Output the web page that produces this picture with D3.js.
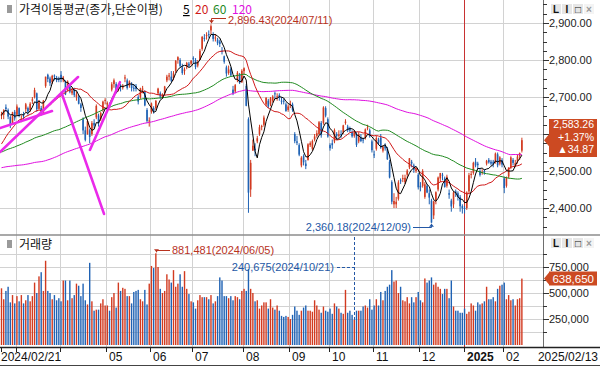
<!DOCTYPE html>
<html>
<head>
<meta charset="utf-8">
<title>가격이동평균</title>
<script src="https://d3js.org/d3.v7.min.js"></script>
<style>
  body { margin: 0; background: #fff; }
  svg { display: block; font-family: "Liberation Sans", Arial, sans-serif; font-size: 11px; }
  .kr { font-family: "Noto Sans CJK KR", sans-serif; font-size: 12px; }
</style>
</head>
<body>
<div id="chart"></div>
<script>
// trading days, grouped by month
var tradingDays = [
  ["2024/02", [21,22,23,26,27,28,29]],
  ["2024/03", [4,5,6,7,8,11,12,13,14,15,18,19,20,21,22,25,26,27,28,29]],
  ["2024/04", [1,2,3,4,5,8,9,11,12,15,16,17,18,19,22,23,24,25,26,29,30]],
  ["2024/05", [2,3,7,8,9,10,13,14,16,17,20,21,22,23,24,27,28,29,30,31]],
  ["2024/06", [3,4,5,7,10,11,12,13,14,17,18,19,20,21,24,25,26,27,28]],
  ["2024/07", [1,2,3,4,5,8,9,10,11,12,15,16,17,18,19,22,23,24,25,26,29,30,31]],
  ["2024/08", [1,2,5,6,7,8,9,12,13,14,16,19,20,21,22,23,26,27,28,29,30]],
  ["2024/09", [2,3,4,5,6,9,10,11,12,13,19,20,23,24,25,26,27,30]],
  ["2024/10", [2,4,7,8,10,11,14,15,16,17,18,21,22,23,24,25,28,29,30,31]],
  ["2024/11", [1,4,5,6,7,8,11,12,13,14,15,18,19,20,21,22,25,26,27,28,29]],
  ["2024/12", [2,3,4,5,6,9,10,11,12,13,16,17,18,19,20,23,24,26,27,30]],
  ["2025/01", [2,3,6,7,8,9,10,13,14,15,16,17,20,21,22,23,24,31]],
  ["2025/02", [3,4,5,6,7,10,11,12,13]]
];

// closes before the first visible day (needed for the 60/120 averages)
var priorClose = [
  2537,2519,2543,2552,2561,2556,
  2563,2584,2582,2563,2548,2547,2535,2536,2534,2572,2601,2574,2559,2559,2508,2508,2495,2462,2465,
  2405,2403,2408,2402,2450,2479,2456,2436,2460,2462,2415,2375,2357,2383,2363,2299,2302,2310,2277,
  2301,2343,2368,2502,2443,2421,2427,2409,2403,2433,2486,2488,2469,2491,2510,2511,2514,2496,2495,2521,2519,2535,
  2505,2514,2495,2492,2492,2517,2525,2535,2517,2544,2563,2566,2568,2614,2600,2599,2602,2613,2655,
  2669,2607,2587,2578,2567,2561,2541,2540,2525,2525,2497,2435,2440,2472,2464,2478,2469,2470,2478,2500,2498,2497,
  2542,2615,2591,2576,2609,2620,2649,2620,2613,2648,2680,2657
];

var open = [
  2650,2652,2672,2665,2646,2630,2660,
  2652,2670,2640,2650,2667,2670,2665,2690,2700,2710,2668,2670,2660,2730,2760,2750,2740,2758,2752,2750,
  2760,2745,2740,2720,2730,2710,2720,2700,2700,2680,2640,2610,2600,2610,2600,2630,2645,2650,2640,2665,2690,
  2680,2680,2720,2735,2735,2720,2730,2725,2750,2745,2730,2735,2725,2730,2700,2700,2720,2715,2665,2635,
  2660,2670,2670,2710,2710,2700,2710,2745,2755,2755,2750,2770,2800,2800,2780,2770,2780,2790,2790,
  2805,2800,2785,2800,2830,2860,2865,2870,2880,2870,2860,2855,2850,2825,2810,2780,2765,2775,2720,2715,2745,2760,2740,
  2770,2730,2640,2450,2555,2560,2580,2600,2620,2625,2680,2690,2680,2690,2710,2700,2705,2690,2690,2680,2665,
  2680,2680,2600,2580,2570,2515,2540,2520,2530,2570,2560,2585,2595,2600,2630,2630,2670,2640,
  2570,2575,2580,2600,2595,2600,2605,2630,2620,2615,2605,2595,2600,2580,2590,2585,2590,2615,2610,2580,
  2545,2560,2585,2590,2555,2570,2560,2525,2470,2410,2410,2425,2475,2480,2470,2490,2510,2525,2515,2500,2490,
  2460,2460,2430,2460,2440,2420,2380,2420,2450,2480,2490,2480,2460,2440,2420,2410,2445,2440,2430,2405,
  2400,2400,2445,2490,2495,2525,2520,2500,2495,2500,2520,2530,2525,2525,2525,2545,2520,2530,
  2480,2460,2485,2510,2530,2515,2525,2540,2555
];

var high = [
  2660,2667,2680,2669,2650,2660,2665,
  2680,2672,2651,2660,2684,2674,2686,2700,2725,2712,2692,2676,2692,2755,2763,2755,2760,2761,2757,2755,
  2770,2757,2745,2745,2735,2725,2725,2715,2705,2684,2645,2620,2640,2615,2635,2640,2680,2655,2660,2690,2697,
  2688,2685,2740,2750,2740,2730,2735,2735,2760,2750,2745,2740,2735,2735,2705,2725,2730,2718,2670,2645,
  2685,2675,2692,2725,2715,2710,2730,2760,2765,2770,2770,2800,2810,2805,2790,2780,2795,2795,2800,
  2810,2805,2800,2830,2865,2870,2875,2880,2896.43,2875,2870,2860,2855,2835,2812,2785,2785,2780,2730,2735,2770,2765,2775,
  2780,2735,2645,2530,2585,2575,2595,2625,2625,2650,2700,2695,2700,2705,2715,2710,2710,2700,2695,2685,2680,
  2690,2685,2605,2595,2575,2540,2545,2530,2575,2580,2585,2600,2610,2635,2635,2675,2675,2645,
  2575,2585,2615,2605,2610,2610,2625,2640,2625,2620,2610,2610,2605,2605,2600,2590,2615,2625,2615,2585,
  2555,2595,2590,2600,2570,2575,2565,2530,2475,2440,2430,2475,2480,2490,2490,2505,2535,2530,2520,2510,2495,
  2470,2505,2470,2465,2450,2425,2420,2445,2485,2495,2495,2485,2490,2450,2425,2445,2450,2445,2435,2410,
  2405,2445,2495,2500,2525,2535,2525,2505,2505,2505,2530,2535,2530,2530,2550,2550,2540,2535,
  2485,2485,2510,2540,2535,2530,2545,2550,2590
];

var low = [
  2640,2640,2660,2640,2616,2628,2636,
  2650,2645,2632,2640,2660,2652,2660,2681,2696,2660,2666,2650,2655,2725,2740,2730,2735,2745,2740,2740,
  2740,2740,2705,2715,2710,2705,2700,2690,2680,2660,2600,2580,2598,2575,2595,2615,2640,2620,2635,2660,2680,
  2670,2670,2715,2725,2710,2715,2715,2720,2740,2720,2725,2715,2715,2715,2680,2695,2710,2675,2630,2620,
  2655,2655,2665,2705,2695,2695,2705,2740,2745,2740,2745,2765,2790,2780,2760,2760,2775,2780,2785,
  2790,2775,2780,2800,2825,2850,2855,2860,2870,2850,2850,2840,2835,2815,2790,2755,2760,2755,2705,2710,2740,2735,2738,
  2760,2675,2387,2430,2555,2540,2575,2595,2610,2620,2675,2670,2675,2685,2695,2690,2690,2680,2680,2660,2660,
  2670,2660,2575,2570,2540,2510,2515,2505,2528,2565,2555,2580,2590,2598,2590,2625,2645,2590,
  2555,2560,2575,2585,2590,2590,2600,2625,2605,2605,2590,2590,2565,2575,2578,2575,2585,2610,2590,2550,
  2535,2555,2570,2560,2550,2555,2530,2480,2410,2400,2400,2420,2465,2470,2465,2480,2505,2510,2495,2495,2450,
  2445,2455,2425,2440,2410,2360.18,2370,2410,2445,2470,2475,2455,2455,2425,2390,2400,2430,2420,2390,2385,
  2385,2395,2440,2480,2490,2510,2505,2485,2490,2490,2515,2520,2515,2510,2520,2510,2515,2510,
  2440,2455,2480,2505,2515,2510,2520,2530,2550
];

var close = [
  2653.31,2664.27,2667.70,2647.08,2625.05,2658.63,2642.36,
  2674.27,2649.40,2641.49,2647.62,2680.35,2660.35,2681.81,2693.57,2718.76,2666.84,2685.84,2656.17,2690.14,2754.86,2748.56,2737.57,2757.09,2755.11,2745.82,2746.63,
  2747.86,2753.16,2706.97,2742.00,2714.21,2717.65,2705.16,2706.96,2681.82,2670.43,2609.63,2584.18,2634.70,2591.86,2629.44,2623.02,2675.75,2628.62,2656.33,2687.44,2692.06,
  2683.65,2676.63,2734.36,2745.05,2712.14,2727.63,2727.21,2730.34,2753.00,2724.62,2742.14,2724.18,2723.46,2721.81,2687.60,2722.99,2722.85,2677.30,2635.44,2636.52,
  2682.52,2662.10,2689.50,2722.67,2701.17,2705.72,2728.17,2754.89,2758.42,2744.10,2763.92,2797.33,2807.63,2784.06,2764.73,2774.39,2792.05,2784.26,2797.82,
  2804.31,2780.86,2794.01,2824.94,2862.23,2857.76,2867.38,2867.99,2891.35,2857.00,2860.92,2845.38,2843.35,2824.35,2795.46,2763.51,2774.29,2758.71,2710.65,2731.90,2765.52,2738.19,2770.69,
  2777.68,2676.19,2441.55,2522.15,2568.41,2556.73,2588.43,2618.30,2621.50,2644.50,2697.23,2674.36,2696.63,2701.13,2707.67,2701.69,2698.01,2689.25,2689.83,2662.28,2674.31,
  2681.00,2664.63,2580.80,2576.26,2544.28,2535.93,2523.43,2513.37,2572.09,2575.41,2580.80,2593.37,2602.01,2631.68,2596.32,2671.57,2649.78,2593.27,
  2561.69,2569.71,2610.38,2594.36,2599.16,2596.91,2623.29,2633.45,2610.36,2609.30,2593.71,2604.02,2570.70,2599.62,2581.03,2583.27,2612.43,2617.80,2593.79,2556.15,
  2542.36,2588.97,2576.88,2563.51,2564.63,2561.15,2531.66,2482.57,2417.08,2418.86,2416.86,2469.07,2471.95,2480.63,2481.69,2501.24,2534.34,2520.36,2503.06,2504.67,2455.91,
  2455.89,2500.10,2464.00,2441.85,2428.16,2360.58,2417.84,2442.51,2482.12,2494.46,2488.97,2456.81,2484.43,2435.93,2404.15,2442.01,2440.52,2429.67,2404.77,2399.49,
  2398.94,2441.92,2488.64,2492.10,2521.90,2515.00,2515.78,2489.56,2497.42,2496.94,2527.49,2523.55,2520.05,2518.03,2547.06,2515.43,2536.80,2517.37,
  2453.95,2481.69,2509.29,2536.75,2521.92,2521.27,2539.05,2548.39,2583.26
];

// volume, thousand shares
var volume = [
  545000,440000,520000,560000,410000,480000,400000,
  470000,420000,480000,400000,430000,480000,420000,470000,600000,500000,660000,700000,520000,810000,520000,500000,440000,480000,430000,450000,
  420000,620000,620000,430000,620000,450000,480000,590000,570000,470000,590000,430000,390000,790000,420000,330000,340000,340000,400000,440000,380000,
  380000,330000,460000,500000,360000,600000,520000,550000,540000,470000,470000,400000,510000,520000,530000,440000,420000,530000,390000,590000,
  760000,740000,881481,750000,540000,500000,520000,680000,630000,600000,720000,560000,590000,680000,560000,710000,540000,490000,420000,
  410000,350000,430000,480000,460000,460000,460000,440000,480000,400000,420000,470000,650000,620000,470000,470000,450000,470000,430000,470000,460000,440000,520000,
  540000,520000,730000,540000,500000,420000,430000,350000,380000,410000,410000,350000,440000,360000,340000,380000,330000,280000,270000,280000,270000,
  250000,290000,370000,330000,290000,330000,360000,380000,330000,330000,320000,430000,380000,340000,310000,370000,330000,320000,
  350000,300000,400000,370000,350000,310000,300000,530000,310000,330000,290000,240675,330000,330000,330000,370000,380000,360000,440000,340000,
  380000,440000,380000,510000,430000,520000,560000,580000,720000,610000,620000,500000,560000,430000,420000,460000,400000,460000,410000,460000,510000,
  430000,410000,640000,600000,620000,650000,580000,600000,560000,540000,490000,540000,540000,450000,620000,370000,330000,330000,310000,310000,
  350000,300000,320000,400000,380000,330000,410000,390000,400000,420000,560000,440000,440000,460000,420000,540000,570000,580000,
  600000,440000,480000,430000,440000,380000,440000,450000,638650
];

var maPeriods = [5, 20, 60, 120];
var priceTicks = [2400, 2500, 2600, 2700, 2800, 2900];
var volumeTicks = [250000, 500000, 750000];

// drawn trend lines as [bar index, price] pairs
var trendLines = [
  [[-0.7, 2616], [22.9, 2662]],
  [[-0.7, 2551], [34.7, 2754]],
  [[27.4, 2708], [46.5, 2384]],
  [[40.1, 2557], [53.7, 2740]]
];

var maColors = ["#000000", "#d01818", "#1f8a1f", "#e010e0"];
var upColor = "#d23a20", downColor = "#1f62b4";

var dates = [];
var monthStarts = [];
tradingDays.forEach(function(m) {
  monthStarts.push({ i: dates.length, ym: m[0] });
  m[1].forEach(function(d) { dates.push(m[0] + "/" + (d < 10 ? "0" + d : d)); });
});

var n = close.length;
var bars = d3.range(n).map(function(i) {
  return { i: i, date: dates[i], o: open[i], h: high[i], l: low[i], c: close[i], v: volume[i] };
});

var fmt2 = d3.format(",.2f"), fmt0 = d3.format(",");

var svg = d3.select("#chart").append("svg")
  .attr("width", 600)
  .attr("height", 366);

var plotRight = 543;
var x = d3.scaleLinear().domain([0, 236]).range([1.5, 1.5 + 236 * 2.205]);
var y = d3.scaleLinear().domain([2400, 2900]).range([208, 23]);
var yv = d3.scaleLinear().domain([0, 750000]).range([345, 267]);

var defs = svg.append("defs");
defs.append("clipPath").attr("id", "clipPrice").append("rect")
  .attr("x", 0).attr("y", 0).attr("width", plotRight).attr("height", 234);
defs.append("clipPath").attr("id", "clipVol").append("rect")
  .attr("x", 0).attr("y", 236).attr("width", plotRight).attr("height", 110);

// grid
var grid = svg.append("g").attr("stroke", "#d2d2d2").attr("stroke-width", 1);
grid.selectAll(".hp").data(priceTicks).enter().append("line")
  .attr("x1", 0).attr("x2", plotRight)
  .attr("y1", function(d) { return Math.round(y(d)) + 0.5; })
  .attr("y2", function(d) { return Math.round(y(d)) + 0.5; });
grid.selectAll(".hv").data(d3.range(125000, 900000, 125000)).enter().append("line")
  .attr("x1", 0).attr("x2", plotRight)
  .attr("y1", function(d) { return Math.round(yv(d)) + 0.5; })
  .attr("y2", function(d) { return Math.round(yv(d)) + 0.5; });
grid.selectAll(".vm").data(monthStarts.slice(1)).enter().append("line")
  .attr("x1", function(d) { return Math.round(x(d.i)) - 0.5; })
  .attr("x2", function(d) { return Math.round(x(d.i)) - 0.5; })
  .attr("y1", 0).attr("y2", 347)
  .attr("stroke", function(d) { return d.ym.slice(5) === "01" ? "#c83232" : null; });

// candles
var pg = svg.append("g").attr("clip-path", "url(#clipPrice)");
pg.selectAll(".wick").data(bars).enter().append("line")
  .attr("x1", function(d) { return x(d.i); })
  .attr("x2", function(d) { return x(d.i); })
  .attr("y1", function(d) { return y(d.h); })
  .attr("y2", function(d) { return y(d.l); })
  .attr("stroke", function(d) { return d.c >= d.o ? upColor : downColor; })
  .attr("stroke-width", 1);
pg.selectAll(".body").data(bars).enter().append("rect")
  .attr("x", function(d) { return x(d.i) - 0.8; })
  .attr("width", 1.6)
  .attr("y", function(d) { return y(Math.max(d.o, d.c)); })
  .attr("height", function(d) { return Math.max(1, Math.abs(y(d.o) - y(d.c))); })
  .attr("fill", function(d) { return d.c >= d.o ? upColor : downColor; });

// moving averages
var allClose = priorClose.concat(close);
function movingAverage(p) {
  return d3.range(n).map(function(i) {
    var k = priorClose.length + i;
    return { i: i, v: d3.mean(allClose.slice(Math.max(0, k - p + 1), k + 1)) };
  });
}
var line = d3.line().x(function(d) { return x(d.i); }).y(function(d) { return y(d.v); });
maPeriods.slice().reverse().forEach(function(p) {
  var idx = maPeriods.indexOf(p);
  pg.append("path")
    .datum(movingAverage(p))
    .attr("d", line)
    .attr("fill", "none")
    .attr("stroke", maColors[idx])
    .attr("stroke-width", 1);
});

// trend lines
pg.selectAll(".trend").data(trendLines).enter().append("line")
  .attr("x1", function(d) { return x(d[0][0]); })
  .attr("y1", function(d) { return y(d[0][1]); })
  .attr("x2", function(d) { return x(d[1][0]); })
  .attr("y2", function(d) { return y(d[1][1]); })
  .attr("stroke", "#ea2aea")
  .attr("stroke-width", 2.6)
  .attr("stroke-linecap", "round");

// volume
var vg = svg.append("g").attr("clip-path", "url(#clipVol)");
vg.selectAll("rect").data(bars).enter().append("rect")
  .attr("x", function(d) { return x(d.i) - 0.7; })
  .attr("width", 1.4)
  .attr("y", function(d) { return yv(d.v); })
  .attr("height", function(d) { return yv(0) - yv(d.v); })
  .attr("fill", function(d) { return d.c >= d.o ? upColor : downColor; });

// frame lines
svg.append("line").attr("x1", 0).attr("x2", 600).attr("y1", 235).attr("y2", 235)
  .attr("stroke", "#8c8c8c").attr("stroke-width", 1.5);
svg.append("line").attr("x1", plotRight + 0.5).attr("x2", plotRight + 0.5).attr("y1", 0).attr("y2", 347)
  .attr("stroke", "#6e6e6e");
svg.append("line").attr("x1", 0).attr("x2", 600).attr("y1", 347.5).attr("y2", 347.5)
  .attr("stroke", "#222").attr("stroke-width", 1.5);
svg.append("line").attr("x1", 0).attr("x2", 600).attr("y1", 365.5).attr("y2", 365.5)
  .attr("stroke", "#444");

// right price axis
var ra = svg.append("g");
ra.selectAll(".mt").data(d3.range(2350, 2975, 25)).enter().append("line")
  .attr("x1", plotRight).attr("x2", function(d) { return d % 100 === 0 ? plotRight + 6 : plotRight + 4; })
  .attr("y1", function(d) { return Math.round(y(d)) + 0.5; })
  .attr("y2", function(d) { return Math.round(y(d)) + 0.5; })
  .attr("stroke", "#333");
ra.selectAll(".pl").data(priceTicks).enter().append("text")
  .attr("x", plotRight + 6).attr("y", function(d) { return y(d) + 4; })
  .attr("fill", "#222")
  .text(function(d) { return fmt2(d); });

// right volume axis
ra.selectAll(".vt").data(d3.range(125000, 1000000, 125000)).enter().append("line")
  .attr("x1", plotRight).attr("x2", function(d) { return d % 250000 === 0 ? plotRight + 6 : plotRight + 4; })
  .attr("y1", function(d) { return Math.round(yv(d)) + 0.5; })
  .attr("y2", function(d) { return Math.round(yv(d)) + 0.5; })
  .attr("stroke", "#333");
ra.selectAll(".vl").data(volumeTicks).enter().append("text")
  .attr("x", plotRight + 6).attr("y", function(d) { return yv(d) + 4; })
  .attr("fill", "#222")
  .text(function(d) { return fmt0(d); });

// window buttons
[4, 238].forEach(function(top) {
  var b = svg.append("g").attr("transform", "translate(551," + top + ")");
  ["L", "I", "□", "×"].forEach(function(s, k) {
    b.append("rect").attr("x", k * 11).attr("y", 0).attr("width", 10).attr("height", 10)
      .attr("fill", k === 3 ? "#f4f4f4" : "#e6e6e6");
    b.append("text").attr("x", k * 11 + 5).attr("y", 9).attr("text-anchor", "middle")
      .attr("font-size", 10).attr("font-weight", "bold")
      .attr("fill", k === 3 ? "#9a9a9a" : "#111").text(s);
  });
});

// current price box
var last = bars[n - 1], prev = bars[n - 2];
var diff = last.c - prev.c;
var yc = y(last.c);
svg.append("path")
  .attr("d", "M" + (plotRight + 1) + "," + yc + "L549," + (yc - 6) + "L549,119L597,119L597,157L549,157L549," + (yc + 6) + "Z")
  .attr("fill", "#cc4a22");
[fmt2(last.c), "+" + d3.format(".2f")(diff / prev.c * 100) + "%", "▲" + fmt2(diff)].forEach(function(s, k) {
  svg.append("text").attr("x", 594).attr("y", 128 + k * 12.5).attr("text-anchor", "end")
    .attr("fill", "#fff").attr("font-size", 10.5).text(s);
});
var yvc = yv(last.v);
svg.append("path")
  .attr("d", "M" + (plotRight + 1) + "," + yvc + "L549," + (yvc - 6) + "L549," + (yvc - 7) + "L597," + (yvc - 7) +
    "L597," + (yvc + 7) + "L549," + (yvc + 7) + "L549," + (yvc + 6) + "Z")
  .attr("fill", "#cc4a22");
svg.append("text").attr("x", 594).attr("y", yvc + 4.5).attr("text-anchor", "end")
  .attr("fill", "#fff").attr("font-size", 11.5).text(fmt0(last.v));

// legends
svg.append("rect").attr("x", 7).attr("y", 5).attr("width", 5).attr("height", 8).attr("fill", "#9a9a9a");
svg.append("text").attr("class", "kr").attr("x", 19).attr("y", 14).attr("fill", "#111").text("가격이동평균(종가,단순이평)");
var legX = [183, 195, 213, 232];
maPeriods.forEach(function(p, k) {
  svg.append("text").attr("class", "kr").attr("x", legX[k]).attr("y", 14)
    .attr("fill", maColors[k])
    .attr("text-decoration", k === 0 ? "underline" : null)
    .text(p);
});
svg.append("rect").attr("x", 7).attr("y", 240).attr("width", 5).attr("height", 8).attr("fill", "#9a9a9a");
svg.append("text").attr("class", "kr").attr("x", 19).attr("y", 249).attr("fill", "#111").text("거래량");

// annotations
var ann = svg.append("g");
function arrowHead(px, py, dir, color) {
  ann.append("path")
    .attr("d", "M" + (px - 2.5) + "," + (py - 3 * dir) + "L" + (px + 2.5) + "," + (py - 3 * dir) + "L" + px + "," + py + "Z")
    .attr("fill", color);
}
var hiBar = d3.greatest(bars, function(d) { return d.h; });
var loBar = d3.least(bars, function(d) { return d.l; });
var vHi = d3.greatest(bars, function(d) { return d.v; });
var vLo = d3.least(bars, function(d) { return d.v; });
var red = "#b8321e", blue = "#2458a6";

var hx = Math.round(x(hiBar.i)) + 0.5, hy = y(hiBar.h) - 1;
ann.append("path").attr("d", "M" + hx + "," + hy + "V18.5H226").attr("fill", "none").attr("stroke", red);
arrowHead(hx, hy, 1, red);
ann.append("text").attr("x", 228).attr("y", 24).attr("fill", red)
  .text(fmt2(hiBar.h) + "(" + hiBar.date + ")");

var lx = Math.round(x(loBar.i)) + 0.5, ly = y(loBar.l) + 1;
ann.append("path").attr("d", "M" + lx + "," + ly + "V227.5H413").attr("fill", "none").attr("stroke", blue);
arrowHead(lx, ly, -1, blue);
ann.append("text").attr("x", 411).attr("y", 231).attr("text-anchor", "end").attr("fill", blue)
  .text(fmt2(loBar.l) + "(" + loBar.date + ")");

var vx = Math.round(x(vHi.i)) + 0.5, vy = yv(vHi.v) - 1;
ann.append("path").attr("d", "M" + vx + "," + vy + "V250.5H170").attr("fill", "none").attr("stroke", red);
arrowHead(vx, vy, 1, red);
ann.append("text").attr("x", 172).attr("y", 254).attr("fill", red)
  .text(fmt0(vHi.v) + "(" + vHi.date + ")");

var mx = Math.round(x(vLo.i)) + 0.5;
ann.append("path").attr("d", "M337,267.5H" + mx + "M" + mx + ",237V" + yv(vLo.v))
  .attr("fill", "none").attr("stroke", blue).attr("stroke-dasharray", "3,2");
ann.append("text").attr("x", 334).attr("y", 271).attr("text-anchor", "end").attr("fill", blue)
  .text(fmt0(vLo.v) + "(" + vLo.date + ")");

// bottom date axis
var ba = svg.append("g").attr("font-size", 12).attr("fill", "#111");
ba.selectAll("line").data(monthStarts).enter().append("line")
  .attr("x1", function(d) { return Math.round(x(d.i)) - 0.5; })
  .attr("x2", function(d) { return Math.round(x(d.i)) - 0.5; })
  .attr("y1", 347).attr("y2", 352)
  .attr("stroke", "#222");
ba.append("text").attr("x", 1).attr("y", 361).text(dates[0]);
ba.selectAll(".ml").data(monthStarts.filter(function(d) { return x(d.i) > 70; })).enter().append("text")
  .attr("x", function(d) { return Math.round(x(d.i)) + 2; })
  .attr("y", 361)
  .attr("font-weight", function(d) { return d.ym.slice(5) === "01" ? "bold" : null; })
  .text(function(d) { return d.ym.slice(5) === "01" ? d.ym.slice(0, 4) : d.ym.slice(5); });
ba.append("text").attr("x", 598).attr("y", 361).attr("text-anchor", "end").text(dates[n - 1]);
</script>
</body>
</html>
